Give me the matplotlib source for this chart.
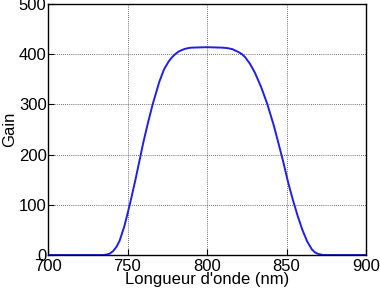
import matplotlib
matplotlib.use("Agg")
import matplotlib.pyplot as plt

# wavelength (nm) and gain
wavelength = [700, 720, 735, 737, 739, 741, 743, 745, 748, 750, 752, 755, 758,
              760, 763, 766, 770, 773, 776, 778, 780, 782, 784, 786, 788,
              790, 800, 810, 813, 816, 818, 820, 822, 824, 827, 830, 834,
              838, 842, 845, 848, 851, 854, 857, 860, 863, 866, 868, 870,
              873, 880, 900]
gain = [0, 0, 0, 1, 3, 8, 16, 28, 57, 82, 108, 150, 195,
        225, 265, 302, 345, 370, 386, 394, 400, 405, 408, 410.5, 412,
        413, 414, 413, 412, 410, 407, 404, 400, 394, 381, 364, 335,
        300, 258, 222, 185, 145, 110, 78, 50, 27, 11, 5, 2,
        0, 0, 0]

xticks = [700, 750, 800, 850, 900]
yticks = [0, 100, 200, 300, 400, 500]

plt.rcParams["font.family"] = ["Liberation Sans", "DejaVu Sans"]
plt.rcParams["font.size"] = 12

fig = plt.figure(figsize=(3.8, 2.91), dpi=100)
ax = fig.add_axes([48 / 380, 1 - 255 / 291, 318 / 380, 251 / 291])

ax.plot(wavelength, gain, color="#1f1fe6", lw=1.4)

ax.set_xlim(700, 900)
ax.set_ylim(0, 500)
ax.set_xticks(xticks)
ax.set_yticks(yticks)
ax.grid(True, color="#404040", linestyle=(0, (1, 1.5)), linewidth=0.6)
ax.tick_params(axis="x", direction="in", length=4, pad=3, labelsize=12)
ax.tick_params(axis="y", direction="in", length=4, pad=1, labelsize=12)
for s in ax.spines.values():
    s.set_linewidth(1.0)

ax.set_xlabel("Longueur d'onde (nm)", labelpad=-1.5)
ax.set_ylabel("Gain", labelpad=1)

fig.savefig("out.png", dpi=100)
